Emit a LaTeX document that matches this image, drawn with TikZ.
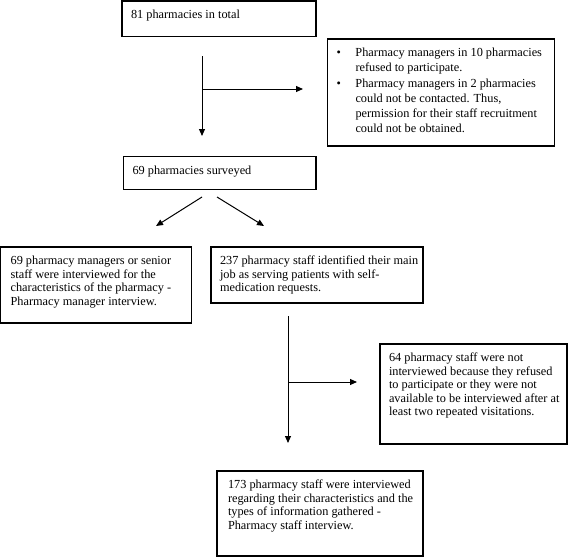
\documentclass[tikz,border=0pt]{standalone}
\usepackage{fontspec}
\setmainfont{Liberation Serif}
\usetikzlibrary{arrows.meta}
\newcommand\txtlines[1]{\begin{tabular}{@{}l@{}}#1\end{tabular}}
\begin{document}
\begin{tikzpicture}[x=1pt,y=-1pt,
  box/.style={draw, line width=1.2pt, anchor=north west, inner xsep=9pt, inner ysep=8pt, outer sep=0pt, font=\fontsize{12.3}{13.6}\selectfont},
  arr/.style={line width=1pt, -{Triangle[length=7pt,width=6pt]}}]
\fill[white] (0,0) rectangle (568,557);
\useasboundingbox (0,0) rectangle (568,557);

\node[box] (b1) at (122,1) {\parbox[c][19.5pt][t]{176pt}{\txtlines{81 pharmacies in total}}};

\node[box, inner ysep=7pt, font=\fontsize{12.3}{15.2}\selectfont] (b2) at (327.5,39) {\parbox[c][93pt][t]{209pt}{\begin{tabular}{@{}p{19pt}@{}l@{}}\textbullet & Pharmacy managers in 10 pharmacies\\
 & refused to participate.\\
\textbullet & Pharmacy managers in 2 pharmacies\\
 & could not be contacted. Thus,\\
 & permission for their staff recruitment\\
 & could not be obtained.\end{tabular}}};

\node[box] (b3) at (123.5,156.5) {\parbox[c][17pt][t]{174.5pt}{\txtlines{69 pharmacies surveyed}}};

\node[box, inner xsep=10pt] (b4) at (0.6,247) {\parbox[c][60pt][t]{171pt}{\txtlines{69 pharmacy managers or senior\\staff were interviewed for the\\characteristics of the pharmacy -\\Pharmacy manager interview.}}};

\node[box] (b5) at (211,247) {\parbox[c][40pt][t]{194pt}{\txtlines{237 pharmacy staff identified their main\\job as serving patients with self-\\medication requests.}}};

\node[box] (b6) at (380,344) {\parbox[c][84pt][t]{169pt}{\txtlines{64 pharmacy staff were not\\interviewed because they refused\\to participate or they were not\\available to be interviewed after at\\least two repeated visitations.}}};

\node[box, inner xsep=11pt] (b7) at (217,471) {\parbox[c][69pt][t]{184pt}{\txtlines{173 pharmacy staff were interviewed\\regarding their characteristics and the\\types of information gathered -\\Pharmacy staff interview.}}};

\coordinate (p1) at (202,56);
\coordinate (p2) at (202,136);
\coordinate (p3) at (202,89);
\coordinate (p4) at (303,89);
\draw[arr] (p1) -- (p2);
\draw[arr] (p3) -- (p4);

\coordinate (d0) at (202,197);
\coordinate (d1) at (156,226);
\coordinate (d2) at (217,197);
\coordinate (d3) at (264,226);
\draw[arr] (d0) -- (d1);
\draw[arr] (d2) -- (d3);

\coordinate (q1) at (288,316);
\coordinate (q2) at (288,443);
\coordinate (q3) at (288,382);
\coordinate (q4) at (357,382);
\draw[arr] (q1) -- (q2);
\draw[arr] (q3) -- (q4);
\end{tikzpicture}
\end{document}
